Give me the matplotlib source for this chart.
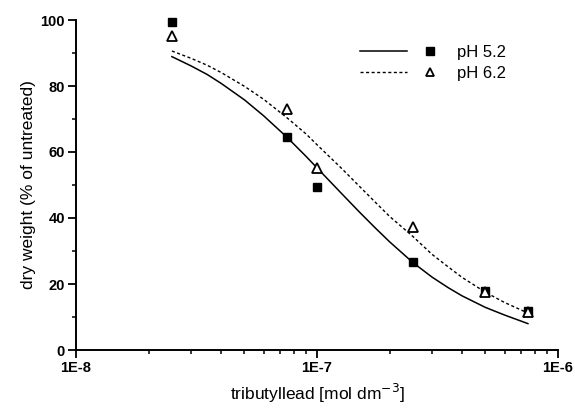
import matplotlib
matplotlib.use('Agg')
import matplotlib.pyplot as plt
from matplotlib.lines import Line2D
from matplotlib.legend_handler import HandlerTuple
from matplotlib.ticker import FixedLocator, LogLocator, NullFormatter, FixedFormatter

plt.rcParams['font.family'] = ['Liberation Sans', 'DejaVu Sans']

# measured points
conc = [2.5e-8, 7.5e-8, 1e-7, 2.5e-7, 5e-7, 7.5e-7]
ph52 = [99.5, 64.5, 49.5, 26.6, 17.8, 11.7]
ph62 = [95.2, 73.0, 55.0, 37.2, 17.5, 11.6]

# fitted curves
fit_conc = [2.5e-8, 3e-8, 3.5e-8, 4e-8, 5e-8, 6e-8, 7.5e-8, 9e-8, 1e-7, 1.25e-7, 1.5e-7,
            1.75e-7, 2e-7, 2.5e-7, 3e-7, 3.5e-7, 4e-7, 5e-7, 6e-7, 7.5e-7]
fit52 = [88.9, 86.1, 83.5, 80.8, 75.8, 71.0, 64.5, 58.7, 55.2, 47.8, 41.8,
         36.9, 32.8, 26.5, 22.1, 18.9, 16.4, 12.9, 10.6, 8.0]
fit62 = [90.6, 88.4, 86.3, 84.1, 79.9, 76.0, 70.4, 65.5, 62.2, 55.4, 49.6,
         44.7, 40.5, 34.4, 29.0, 25.2, 22.0, 17.5, 14.4, 11.2]

fig = plt.figure(figsize=(5.75, 4.08), dpi=100)
ax = fig.add_axes([76 / 575, 1 - 350 / 408, 482 / 575, 330 / 408])

ax.plot(fit_conc, fit52, color='black', lw=1.1)
ax.plot(fit_conc, fit62, color='black', lw=1.0, ls=(0, (2.2, 1.8)))
ax.plot(conc, ph52, 's', color='black', ms=6, clip_on=False, zorder=3)
ax.plot(conc, ph62, '^', mfc='white', mec='black', mew=1.3, ms=6.5, clip_on=False, zorder=4)

ax.set_xscale('log')
ax.set_xlim(1e-8, 1e-6)
ax.set_ylim(0, 100)

ax.spines['top'].set_visible(False)
ax.spines['right'].set_visible(False)
for s in ('left', 'bottom'):
    ax.spines[s].set_linewidth(1.4)

ax.xaxis.set_major_locator(FixedLocator([1e-8, 1e-7, 1e-6]))
ax.xaxis.set_major_formatter(FixedFormatter(['1E-8', '1E-7', '1E-6']))
ax.xaxis.set_minor_locator(LogLocator(base=10, subs=range(2, 10)))
ax.xaxis.set_minor_formatter(NullFormatter())
ax.yaxis.set_major_locator(FixedLocator([0, 20, 40, 60, 80, 100]))
ax.yaxis.set_minor_locator(FixedLocator([10, 30, 50, 70, 90]))

ax.tick_params(which='major', direction='out', length=6, width=1.3, labelsize=10.5, pad=2)
ax.tick_params(which='minor', direction='out', length=3, width=1.1)
for lab in ax.get_xticklabels() + ax.get_yticklabels():
    lab.set_fontweight('bold')

ax.set_ylabel('dry weight (% of untreated)', fontsize=12.5, labelpad=3)
ax.set_xlabel('tributyllead [mol dm$^{-3}$]', fontsize=12.5, labelpad=5)

h_line52 = Line2D([], [], color='black', lw=1.1)
h_mark52 = Line2D([], [], marker='s', ls='none', color='black', ms=5.5)
h_line62 = Line2D([], [], color='black', lw=1.0, ls=(0, (2.2, 1.8)))
h_mark62 = Line2D([], [], marker='^', ls='none', mfc='white', mec='black', mew=1.3, ms=6)
ax.legend([(h_line52, h_mark52), (h_line62, h_mark62)], ['pH 5.2', 'pH 6.2'],
          handler_map={tuple: HandlerTuple(ndivide=None, pad=0)},
          loc='upper left', bbox_to_anchor=(0.589, 0.925), frameon=False,
          fontsize=12, handlelength=5.6, handletextpad=0.2, labelspacing=0.38,
          borderpad=0, borderaxespad=0)

fig.savefig('out.png', dpi=100)
